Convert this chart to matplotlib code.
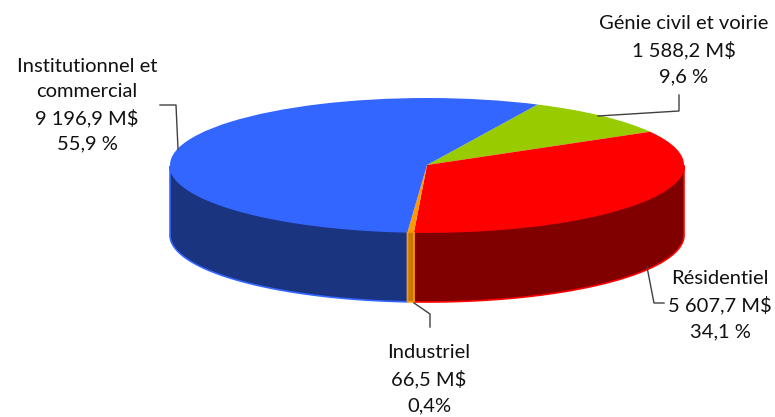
import numpy as np
import matplotlib
matplotlib.use('Agg')
import matplotlib.pyplot as plt

plt.rcParams['font.family'] = ['Lato', 'DejaVu Sans']

# Inputs
names = ['Génie civil et voirie', 'Résidentiel', 'Industriel', 'Institutionnel et\ncommercial']
amounts = [1588.2, 5607.7, 66.5, 9196.9]
amount_txt = ['1 588,2 M$', '5 607,7 M$', '66,5 M$', '9 196,9 M$']
pct_txt = ['9,6 %', '34,1 %', '0,4%', '55,9 %']
top_colors = ['#99cc00', '#ff0000', '#ff9900', '#3366ff']
side_colors = ['#5c7a00', '#800000', '#c87800', '#1a3480']
side_order = [1, 1, 3, 1]

W, H = 775, 417
cx, cy, a, b, depth = 427, 165, 257, 67, 70
start = 64.5

fig = plt.figure(figsize=(W/100, H/100), dpi=100)
ax = fig.add_axes([0, 0, 1, 1])

# Sides first, the pie goes over them
fracs = np.array(amounts)/np.sum(amounts)
stops = start - np.cumsum(np.r_[0, fracs])*360
d = depth/b
for i in range(len(amounts)):
    hi, lo = stops[i], stops[i+1]
    # keep only the front half of the ellipse
    ang = np.radians(np.linspace(lo, hi, 200))
    ang = ang[np.sin(ang) <= 0]
    if len(ang) == 0:
        continue
    x = np.cos(ang)
    y = np.sin(ang)
    ax.fill(np.r_[x, x[::-1]], np.r_[y, y[::-1]-d], fc=side_colors[i],
            ec=top_colors[i], lw=1.2, zorder=side_order[i])

ax.pie(amounts, colors=top_colors, startangle=start, counterclock=False, radius=1,
       wedgeprops={'lw': 0, 'zorder': 4})

# squash the pie: limits put it where it sits in the picture
ax.set_aspect('auto')
ax.set_xlim(-cx/a, (W-cx)/a)
ax.set_ylim(-(H-cy)/b, cy/b)
ax.axis('off')

# Overlay in pixels for leader lines and labels
ov = fig.add_axes([0, 0, 1, 1])
ov.set_xlim(0, W)
ov.set_ylim(H, 0)
ov.axis('off')
ov.patch.set_alpha(0)

leaders = [([598, 679, 679], [116, 111, 95]),
           ([647, 654, 664], [267, 303, 303]),
           ([414, 430, 430], [303, 314, 327]),
           ([160, 176, 178], [105, 105, 149])]
label_pos = [(684, 50), (720, 305), (429, 379), (87, 105)]

for i in range(len(names)):
    ov.plot(leaders[i][0], leaders[i][1], color='#404040', lw=1, zorder=3)
    ov.text(label_pos[i][0], label_pos[i][1],
            names[i] + '\n' + amount_txt[i] + '\n' + pct_txt[i],
            ha='center', va='center', ma='center', fontsize=14.5, linespacing=1.58,
            color='#111111', parse_math=False)

fig.savefig('out.png', dpi=100)
